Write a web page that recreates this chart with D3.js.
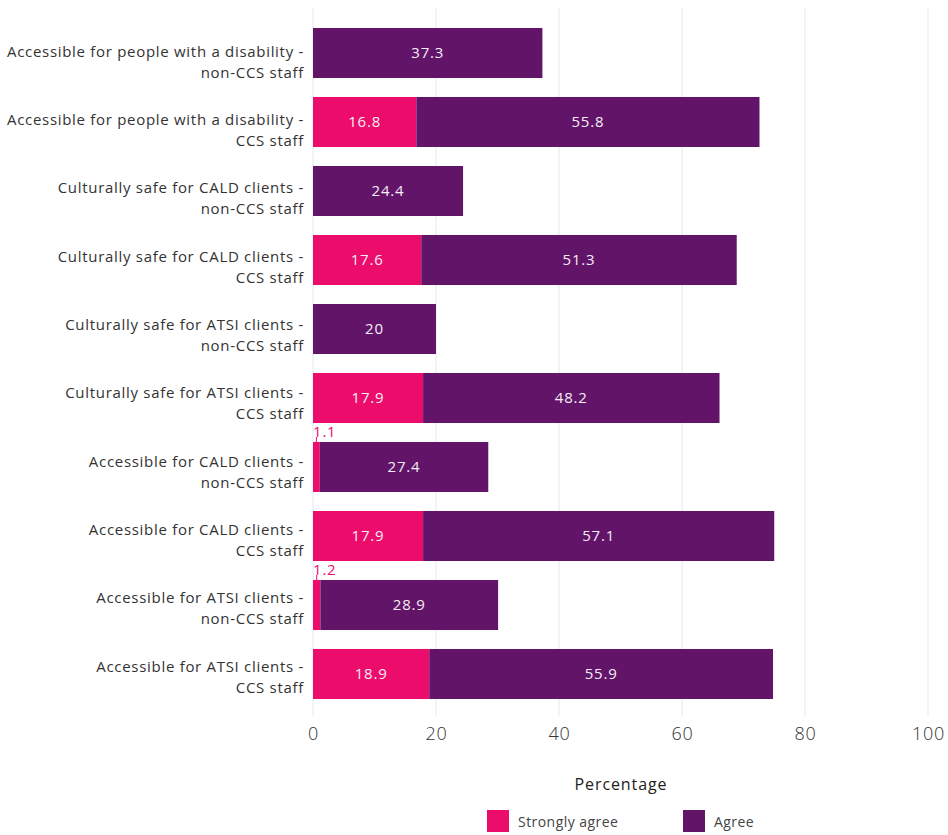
<!DOCTYPE html>
<html>
<head>
<meta charset="utf-8">
<script src="https://cdn.jsdelivr.net/npm/d3@7"></script>
<style>
  body { margin: 0; background: #fff; }
  svg { display: block; font-family: "Open Sans", Lato, sans-serif; }
</style>
</head>
<body>
<svg id="chart" width="948" height="835"></svg>
<script>
// Survey categories (top to bottom), each label split over two lines
const categories = [
  ["Accessible for people with a disability -", "non-CCS staff"],
  ["Accessible for people with a disability -", "CCS staff"],
  ["Culturally safe for CALD clients -", "non-CCS staff"],
  ["Culturally safe for CALD clients -", "CCS staff"],
  ["Culturally safe for ATSI clients -", "non-CCS staff"],
  ["Culturally safe for ATSI clients -", "CCS staff"],
  ["Accessible for CALD clients -", "non-CCS staff"],
  ["Accessible for CALD clients -", "CCS staff"],
  ["Accessible for ATSI clients -", "non-CCS staff"],
  ["Accessible for ATSI clients -", "CCS staff"]
];
const stronglyAgree = [0, 16.8, 0, 17.6, 0, 17.9, 1.1, 17.9, 1.2, 18.9];
const agree = [37.3, 55.8, 24.4, 51.3, 20, 48.2, 27.4, 57.1, 28.9, 55.9];
const seriesNames = ["Strongly agree", "Agree"];
const seriesColors = ["#ec0c6c", "#621469"];
const xTicks = [0, 20, 40, 60, 80, 100];

const svg = d3.select("#chart");
const x = d3.scaleLinear().domain([0, 100]).range([313, 928]);
const y = d3.scaleBand().domain(d3.range(categories.length))
  .range([18.5, 708.5]).paddingInner(0.275).paddingOuter(0.1375);
// category label rows sit on a slightly tighter pitch than the bars
const yLabel = d3.scalePoint().domain(d3.range(categories.length)).range([62, 677]);

// vertical gridlines
svg.append("g").selectAll("line").data(xTicks).join("line")
  .attr("x1", d => x(d)).attr("x2", d => x(d))
  .attr("y1", 8).attr("y2", 716)
  .attr("stroke", "#ebf1f3").attr("stroke-width", 1.5);

// x axis tick labels
const xAxis = d3.axisBottom(x).tickValues(xTicks).tickSize(0).tickPadding(0);
const gx = svg.append("g").attr("transform", "translate(0,727)").call(xAxis);
gx.select(".domain").remove();
gx.selectAll("text").attr("font-size", 18).attr("fill", "#333")
  .attr("font-family", "'Open Sans', sans-serif").attr("font-weight", 300)
  .attr("letter-spacing", 0.8);

// stacked bars
const rows = categories.map((c, i) => ({ i, sa: stronglyAgree[i], a: agree[i] }));
const g = svg.append("g");
rows.forEach(r => {
  const segs = [
    { s: 0, v: r.sa, x0: 0, x1: r.sa },
    { s: 1, v: r.a, x0: r.sa, x1: r.sa + r.a }
  ];
  segs.forEach(seg => {
    if (seg.v <= 0) return;
    g.append("rect")
      .attr("x", x(seg.x0)).attr("y", y(r.i))
      .attr("width", x(seg.x1) - x(seg.x0)).attr("height", y.bandwidth())
      .attr("fill", seriesColors[seg.s]);
    const w = x(seg.x1) - x(seg.x0);
    if (w > 30) {
      g.append("text")
        .attr("x", (x(seg.x0) + x(seg.x1)) / 2)
        .attr("y", y(r.i) + y.bandwidth() / 2)
        .attr("dy", "0.35em").attr("text-anchor", "middle")
        .attr("font-size", 15).attr("letter-spacing", 0.8).attr("fill", "#f4eef4")
        .text(seg.v);
    } else {
      // small segment: label sits above the bar with a short leader
      const cx = (x(seg.x0) + x(seg.x1)) / 2;
      g.append("line")
        .attr("x1", cx).attr("x2", cx)
        .attr("y1", y(r.i) - 5).attr("y2", y(r.i))
        .attr("stroke", seriesColors[seg.s]).attr("stroke-width", 1);
      g.append("text")
        .attr("x", x(seg.x0)).attr("y", y(r.i) - 5)
        .attr("font-size", 15).attr("letter-spacing", 0.8).attr("fill", seriesColors[seg.s])
        .text(seg.v);
    }
  });
});

// category labels
const yl = svg.append("g");
categories.forEach((lines, i) => {
  const cy = yLabel(i);
  const t = yl.append("text").attr("text-anchor", "end")
    .attr("font-size", 15).attr("letter-spacing", 0.7).attr("fill", "#333");
  t.append("tspan").attr("x", 304).attr("y", cy - 10.5).attr("dy", "0.35em").text(lines[0]);
  t.append("tspan").attr("x", 304).attr("y", cy + 10.5).attr("dy", "0.35em").text(lines[1]);
});

// axis title
svg.append("text").attr("x", 621).attr("y", 790).attr("text-anchor", "middle")
  .attr("font-size", 16).attr("letter-spacing", 0.9).attr("fill", "#222").text("Percentage");

// legend
const legendX = [487, 683];
seriesNames.forEach((n, i) => {
  svg.append("rect").attr("x", legendX[i]).attr("y", 810)
    .attr("width", 22).attr("height", 22).attr("fill", seriesColors[i]);
  svg.append("text").attr("x", legendX[i] + 31).attr("y", 822)
    .attr("dy", "0.35em").attr("font-size", 14).attr("letter-spacing", 0.45)
    .attr("fill", "#444").text(n);
});
</script>
</body>
</html>
